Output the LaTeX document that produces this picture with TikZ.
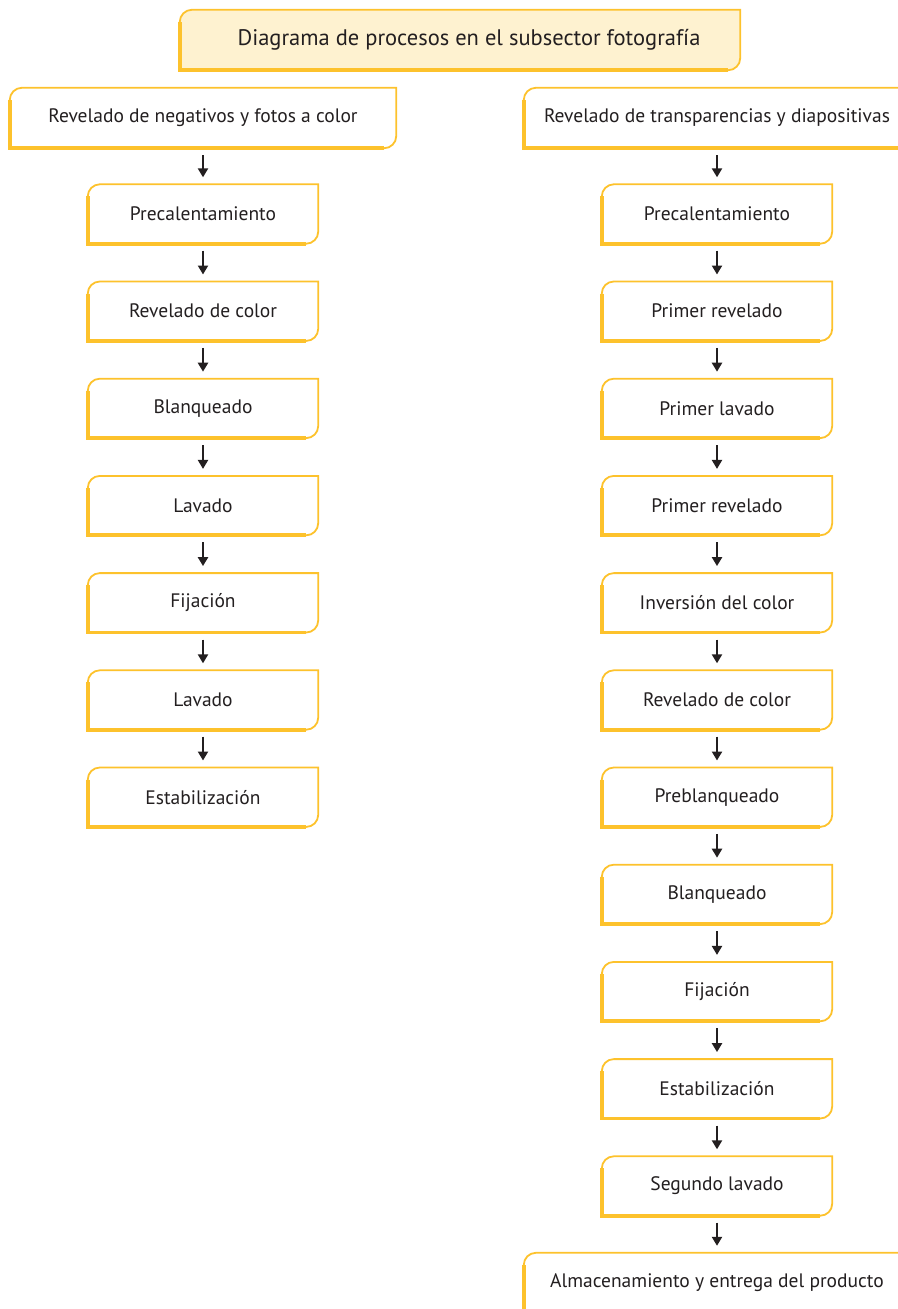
\documentclass[tikz,border=0pt]{standalone}
\usepackage{fontspec}
\setmainfont{PT Sans}
\usetikzlibrary{arrows.meta}
\usetikzlibrary{calc}

\definecolor{amarillo}{HTML}{FDC22C}
\definecolor{crema}{HTML}{FEF2D0}
\definecolor{tinta}{HTML}{231F20}

\pgfdeclarelayer{fondo}
\pgfsetlayers{fondo,main}

\tikzset{
	caja/.style={minimum width=230pt, minimum height=59pt, inner sep=0pt, text=tinta, font=\fontsize{19.5}{23}\selectfont},
	cabeza/.style={caja, minimum width=386pt, minimum height=60pt},
	flecha/.style={-{Triangle[length=9pt,width=10pt]}, line width=2.8pt, draw=tinta, shorten <=7pt, shorten >=7pt},
}

% marco amarillo con dos esquinas redondeadas
\newcommand{\borde}[2][white]{%
	\begin{pgfonlayer}{fondo}
	\fill[#1] (#2.south west) -- ([yshift=-12pt]#2.north west) arc[start angle=180, end angle=90, radius=12pt] -- (#2.north east) -- ([yshift=12pt]#2.south east) arc[start angle=0, end angle=-90, radius=12pt] -- cycle;
	\draw[amarillo, line width=1.8pt] (#2.south west) -- ([yshift=-12pt]#2.north west) arc[start angle=180, end angle=90, radius=12pt] -- (#2.north east) -- ([yshift=12pt]#2.south east) arc[start angle=0, end angle=-90, radius=12pt] -- cycle;
	\draw[amarillo, line width=3.8pt] ([yshift=-12pt]#2.north west) -- (#2.south west) -- ([xshift=-12pt]#2.south east);
	\end{pgfonlayer}}

\begin{document}
\begin{tikzpicture}[x=1pt, y=1pt]
		\clip (0,0) rectangle (897,-1309);

		\node[cabeza, minimum width=560pt, font=\fontsize{22.5}{26}\selectfont] (titulo) at (460,-40) {\hspace{18pt}Diagrama de procesos en el subsector fotografía};
		\borde[crema]{titulo}

		% columna izquierda
		\node[cabeza] (izq0) at (203,-118) {Revelado de negativos y fotos a color};
		\borde{izq0}
		\foreach \t [count=\i] in {Precalentamiento, Revelado de color, Blanqueado, Lavado, Fijación, Lavado, Estabilización} {
			\node[caja] (izq\i) at (203,{-214-97.2*(\i-1)}) {\t};
			\borde{izq\i}
		}
		\foreach \i in {1,...,7} {
			\pgfmathtruncatemacro\j{\i-1}
			\draw[flecha] (izq\j) -- (izq\i);
		}

		% columna derecha
		\node[cabeza] (der0) at (717,-118) {Revelado de transparencias y diapositivas};
		\borde{der0}
		\foreach \t [count=\i] in {Precalentamiento, Primer revelado, Primer lavado, Primer revelado, Inversión del color, Revelado de color, Preblanqueado, Blanqueado, Fijación, Estabilización, Segundo lavado} {
			\node[caja] (der\i) at (717,{-214-97.2*(\i-1)}) {\t};
			\borde{der\i}
		}
		\node[cabeza] (der12) at (717,-1283) {Almacenamiento y entrega del producto};
		\borde{der12}
		\foreach \i in {1,...,12} {
			\pgfmathtruncatemacro\j{\i-1}
			\draw[flecha] (der\j) -- (der\i);
		}
	\end{tikzpicture}
\end{document}
